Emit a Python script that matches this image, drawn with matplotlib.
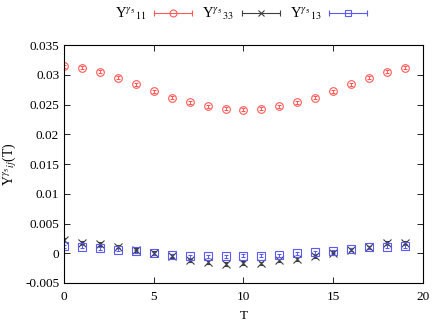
import numpy as np
import matplotlib
matplotlib.use("Agg")
import matplotlib.pyplot as plt
from matplotlib.lines import Line2D
from matplotlib.legend_handler import HandlerBase

plt.rcParams['font.family'] = ['Liberation Serif', 'DejaVu Serif']
plt.rcParams['mathtext.fontset'] = 'stix'

T = np.arange(20)

y11 = [0.03148, 0.03121, 0.03053, 0.02952, 0.02840, 0.02723, 0.02616, 0.02538, 0.02471, 0.02432,
       0.02415, 0.02432, 0.02471, 0.02538, 0.02616, 0.02723, 0.02840, 0.02952, 0.03053, 0.03121]
e11 = [0.00025] * 20

y33 = [0.0022, 0.0018, 0.0016, 0.0011, 0.0005, 0.0000, -0.0005, -0.0012, -0.0015, -0.0018,
       -0.0016, -0.0017, -0.0012, -0.0010, -0.0005, 0.0000, 0.0006, 0.0010, 0.0017, 0.0018]
e33 = [0.0003] * 20

y13 = [0.0012, 0.0011, 0.0008, 0.0006, 0.0003, 0.0000, -0.0003, -0.0005, -0.0005, -0.0005,
       -0.00045, -0.0004, -0.0003, 0.0000, 0.0002, 0.0003, 0.0007, 0.0010, 0.0011, 0.0012]
e13 = [0.00025] * 20

labels = [r'Y$^{\gamma_5}{}_{11}$', r'Y$^{\gamma_5}{}_{33}$', r'Y$^{\gamma_5}{}_{13}$']
colors = ['#ff5a5a', '#404040', '#5a5aff']
markers = ['o', 'x', 's']


class GnuHandler(HandlerBase):
    # gnuplot style key sample: line with end caps and marker in the middle
    def __init__(self, color, marker):
        super().__init__()
        self.color = color
        self.marker = marker

    def create_artists(self, legend, orig_handle, xdescent, ydescent, width, height, fontsize, trans):
        y = height / 2 - ydescent
        x0, x1 = -xdescent, -xdescent + width
        line = Line2D([x0, x1], [y, y], color=self.color, lw=0.8, transform=trans)
        caps = Line2D([x0, x1], [y, y], ls='none', marker='|', ms=5, mew=0.8,
                      color=self.color, transform=trans)
        mk = Line2D([(x0 + x1) / 2], [y], ls='none', marker=self.marker, ms=5,
                    mfc='none', mec=self.color, mew=0.8, transform=trans)
        return [line, caps, mk]


fig = plt.figure(figsize=(4.36, 3.27), dpi=100)
ax = fig.add_axes([0.1468, 0.1346, 0.8232, 0.7274])

handles = []
for y, e, c, m in zip([y11, y33, y13], [e11, e33, e13], colors, markers):
    ax.errorbar(T, y, yerr=e, fmt=m, color=c, mfc='none', mec=c, ms=5.5, mew=0.8,
                elinewidth=0.7, capsize=1.5, capthick=0.7)
    handles.append(Line2D([], []))

ax.set_xlim(0, 20)
ax.set_ylim(-0.005, 0.035)
ax.set_xticks([0, 5, 10, 15, 20])
ax.set_yticks([-0.005, 0, 0.005, 0.01, 0.015, 0.02, 0.025, 0.03, 0.035])
ax.set_yticklabels(['-0.005', '0', '0.005', '0.01', '0.015', '0.02', '0.025', '0.03', '0.035'])
ax.tick_params(direction='in', top=True, right=True, labelsize=9.5, length=4, width=0.6)
ax.tick_params(axis='x', pad=6)
for s in ax.spines.values():
    s.set_linewidth(0.8)
ax.set_xlabel('T', fontsize=9.5, labelpad=5)
ax.set_ylabel(r'Y$^{\gamma_5}{}_{ij}$(T)', fontsize=10, labelpad=4)

fig.legend(handles, labels, loc='center', bbox_to_anchor=(0.553, 0.957), ncol=3,
           frameon=False, fontsize=10.5, markerfirst=False, handlelength=2.6,
           columnspacing=0.7, handletextpad=0.55,
           handler_map={h: GnuHandler(c, m) for h, c, m in zip(handles, colors, markers)})

fig.savefig('out.png', dpi=100)
